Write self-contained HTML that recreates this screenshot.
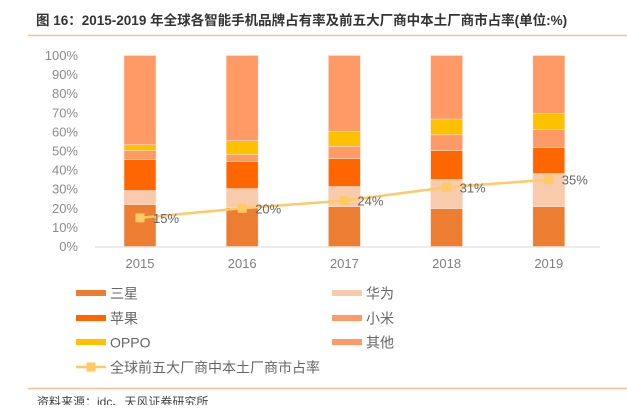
<!DOCTYPE html>
<html><head><meta charset="utf-8"><style>
body{margin:0;background:#fff;width:627px;height:405px;overflow:hidden;font-family:"Liberation Sans","Noto Sans CJK SC",sans-serif}
</style></head><body>
<svg width="627" height="405">
<text x="36" y="25" font-size="13.5" font-weight="bold" fill="#333" font-family="Liberation Sans, Noto Sans CJK SC, sans-serif">图 16：2015-2019 年全球各智能手机品牌占有率及前五大厂商中本土厂商市占率(单位:%)</text>
<line x1="28" y1="35.5" x2="627" y2="35.5" stroke="#f8c08f" stroke-width="1.5"/>
<g id="yaxis"></g>
<g id="bars"></g>
<line x1="95" y1="247" x2="600" y2="247" stroke="#d9d9d9"/>
<g id="xaxis"></g>
<g id="line"></g>
<g id="legend"></g>
<line x1="28" y1="388.5" x2="627" y2="388.5" stroke="#f8c08f" stroke-width="1.5"/>
<text x="37" y="406" font-size="12" fill="#444">资料来源：idc、天风证券研究所</text>
</svg>
<script>
const years=['2015','2016','2017','2018','2019'];
const samsung=[22.0,20.4,20.9,19.9,20.9];
const huawei=[7.3,9.9,10.5,15.2,17.3];
const apple=[16.2,14.1,14.7,15.2,13.6];
const xiaomi=[4.7,3.7,6.3,8.2,9.4];
const oppo=[3.1,7.3,7.9,8.2,8.4];
const others=[46.7,44.6,39.7,33.3,30.4];
const localShare=[15,20,24,31,35];
const yTicks=[0,10,20,30,40,50,60,70,80,90,100];
const NS='http://www.w3.org/2000/svg';
function mk(t,a,p){const e=document.createElementNS(NS,t);for(const k in a)e.setAttribute(k,a[k]);p.appendChild(e);return e;}
const y0=246.5,py=1.91;
const yS=v=>y0-v*py;
const xS=i=>140+i*102.2;
const ya=document.getElementById('yaxis');
yTicks.forEach(v=>{const t=mk('text',{x:78,y:yS(v)+4.5,'font-size':13,fill:'#8c8c8c','text-anchor':'end'},ya);t.textContent=v+'%';

});
const series=[[samsung,'#ed7d31','samsung'],[huawei,'#f8cbad','huawei'],[apple,'#ff6600','apple'],[xiaomi,'#ff9966','xiaomi'],[oppo,'#ffc000','oppo'],[others,'#ff9966','others']];
const bg=document.getElementById('bars');
years.forEach((y,i)=>{let acc=0;series.forEach(s=>{const v=s[0][i];const r=mk('rect',{x:xS(i)-16,y:yS(acc+v),width:32,height:v*py,fill:s[1],stroke:'#fde4d4','stroke-width':0.6},bg);

acc+=v;});});
const xa=document.getElementById('xaxis');
years.forEach((y,i)=>{const t=mk('text',{x:xS(i),y:268,'font-size':13,fill:'#7f7f7f','text-anchor':'middle'},xa);t.textContent=y;

});
const lg=document.getElementById('line');
const pl=mk('polyline',{points:localShare.map((v,i)=>xS(i)+','+yS(v)).join(' '),fill:'none',stroke:'#ffc966','stroke-width':2.5},lg);


localShare.forEach((v,i)=>{const m=mk('rect',{x:xS(i)-4.5,y:yS(v)-4.5,width:9,height:9,fill:'#ffc966'},lg);


const t=mk('text',{x:xS(i)+13,y:yS(v)+5,'font-size':13,fill:'#666'},lg);t.textContent=v+'%';

});
const leg=document.getElementById('legend');
const items=[['三星','#ed7d31',76,293],['华为','#f8cbad',332,293],['苹果','#ff6600',76,318],['小米','#ff9966',332,318],['OPPO','#ffc000',76,342],['其他','#ff9966',332,342]];
items.forEach(it=>{const r=mk('rect',{x:it[2],y:it[3]-3,width:30,height:6,fill:it[1]},leg);


const t=mk('text',{x:it[2]+34,y:it[3]+5.5,'font-size':14,fill:'#666'},leg);t.textContent=it[0];

});
const ll=mk('line',{x1:76,y1:367,x2:106,y2:367,stroke:'#ffc966','stroke-width':2.5},leg);


const lm=mk('rect',{x:86.5,y:362.5,width:9,height:9,fill:'#ffc966'},leg);


const lt=mk('text',{x:110,y:372.5,'font-size':14,fill:'#666'},leg);lt.textContent='全球前五大厂商中本土厂商市占率';


</script>
</body></html>
